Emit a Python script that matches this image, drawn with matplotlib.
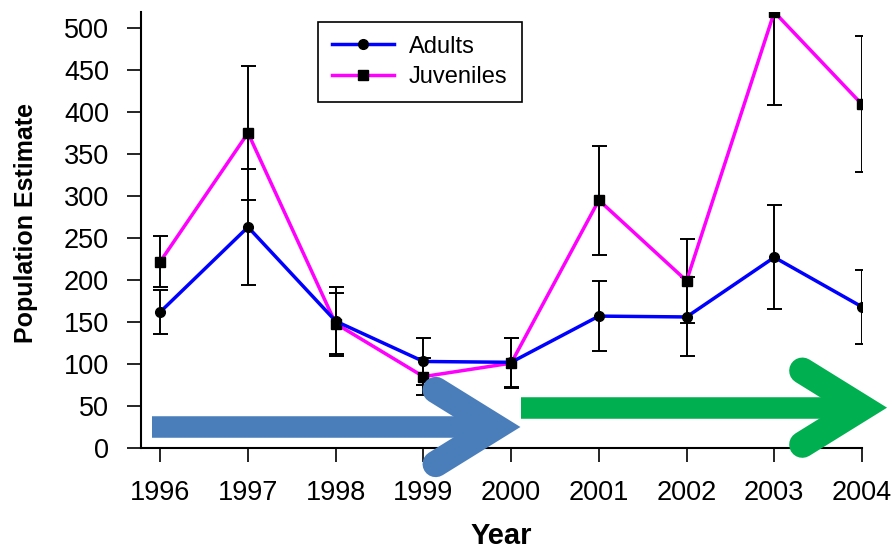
import matplotlib
matplotlib.use("Agg")
from matplotlib import pyplot as plt

plt.rcParams["font.family"] = ["Liberation Sans", "DejaVu Sans"]

years = [1996, 1997, 1998, 1999, 2000, 2001, 2002, 2003, 2004]
adults = [162, 263, 151, 103, 102, 157, 156, 227, 168]
adults_err = [26, 69, 41, 28, 29, 42, 47, 62, 44]
juveniles = [222, 375, 148, 85, 101, 295, 199, 519, 409]
juveniles_err = [30, 80, 36, 22, 30, 65, 50, 111, 81]
y_ticks = [0, 50, 100, 150, 200, 250, 300, 350, 400, 450, 500]

fig = plt.figure(figsize=(8.96, 5.5), dpi=100)
ax = fig.add_axes([141 / 896, 102 / 550, 721 / 896, 436 / 550])

# error bars first, then the lines with markers
ax.errorbar(years, juveniles, yerr=juveniles_err, fmt="none", ecolor="black",
            elinewidth=1.4, capsize=5.4, capthick=1.4, zorder=2)
ax.errorbar(years, adults, yerr=adults_err, fmt="none", ecolor="black",
            elinewidth=1.4, capsize=5.4, capthick=1.4, zorder=2)
ax.plot(years, juveniles, color="#FF00FF", lw=2.5, marker="s", ms=7,
        mfc="black", mec="black", label="Juveniles", zorder=3)
ax.plot(years, adults, color="#0000FF", lw=2.5, marker="o", ms=7,
        mfc="black", mec="black", label="Adults", zorder=4)

ax.set_xlim(1995.78, 2004)
ax.set_ylim(0, 519)
ax.set_xticks(years)
ax.set_yticks(y_ticks)
ax.tick_params(direction="out", length=10, width=1.2, pad=13, labelsize=19.5,
               colors="black")
for s in ["top", "right"]:
    ax.spines[s].set_visible(False)
for s in ["left", "bottom"]:
    ax.spines[s].set_linewidth(1.5)

handles, labels = ax.get_legend_handles_labels()
leg = ax.legend(handles[::-1], labels[::-1], loc="upper left",
                bbox_to_anchor=(0.2455, 0.978), borderaxespad=0,
                fontsize=17, handlelength=2.6, handletextpad=0.65,
                borderpad=0.6, labelspacing=0.35, fancybox=False,
                framealpha=1, edgecolor="black")
leg.get_frame().set_linewidth(1.2)

fig.text(26 / 896, 1 - 223 / 550, "Population Estimate", rotation=90,
         ha="center", va="center", fontsize=18, fontweight="bold")
fig.text(501.5 / 896, 1 - 536 / 550, "Year", ha="center", va="center",
         fontsize=21, fontweight="bold")

# two big arrows, blue (1996-2000) and green (2000-2004)
arm_back = 0.68
arm_spread = 44
for x0, x1, yv, col in [(1995.91, 1999.82, 25, "#4A7EBB"),
                        (2000.114, 2004.0, 48, "#00B050")]:
    ax.plot([x0, x1], [yv, yv], color=col, lw=15.5, solid_capstyle="butt",
            clip_on=False, zorder=10)
    ax.plot([x1 - arm_back, x1, x1 - arm_back],
            [yv + arm_spread, yv, yv - arm_spread], color=col, lw=19,
            solid_capstyle="round", solid_joinstyle="miter", clip_on=False,
            zorder=10)

fig.savefig("out.png", dpi=100)
